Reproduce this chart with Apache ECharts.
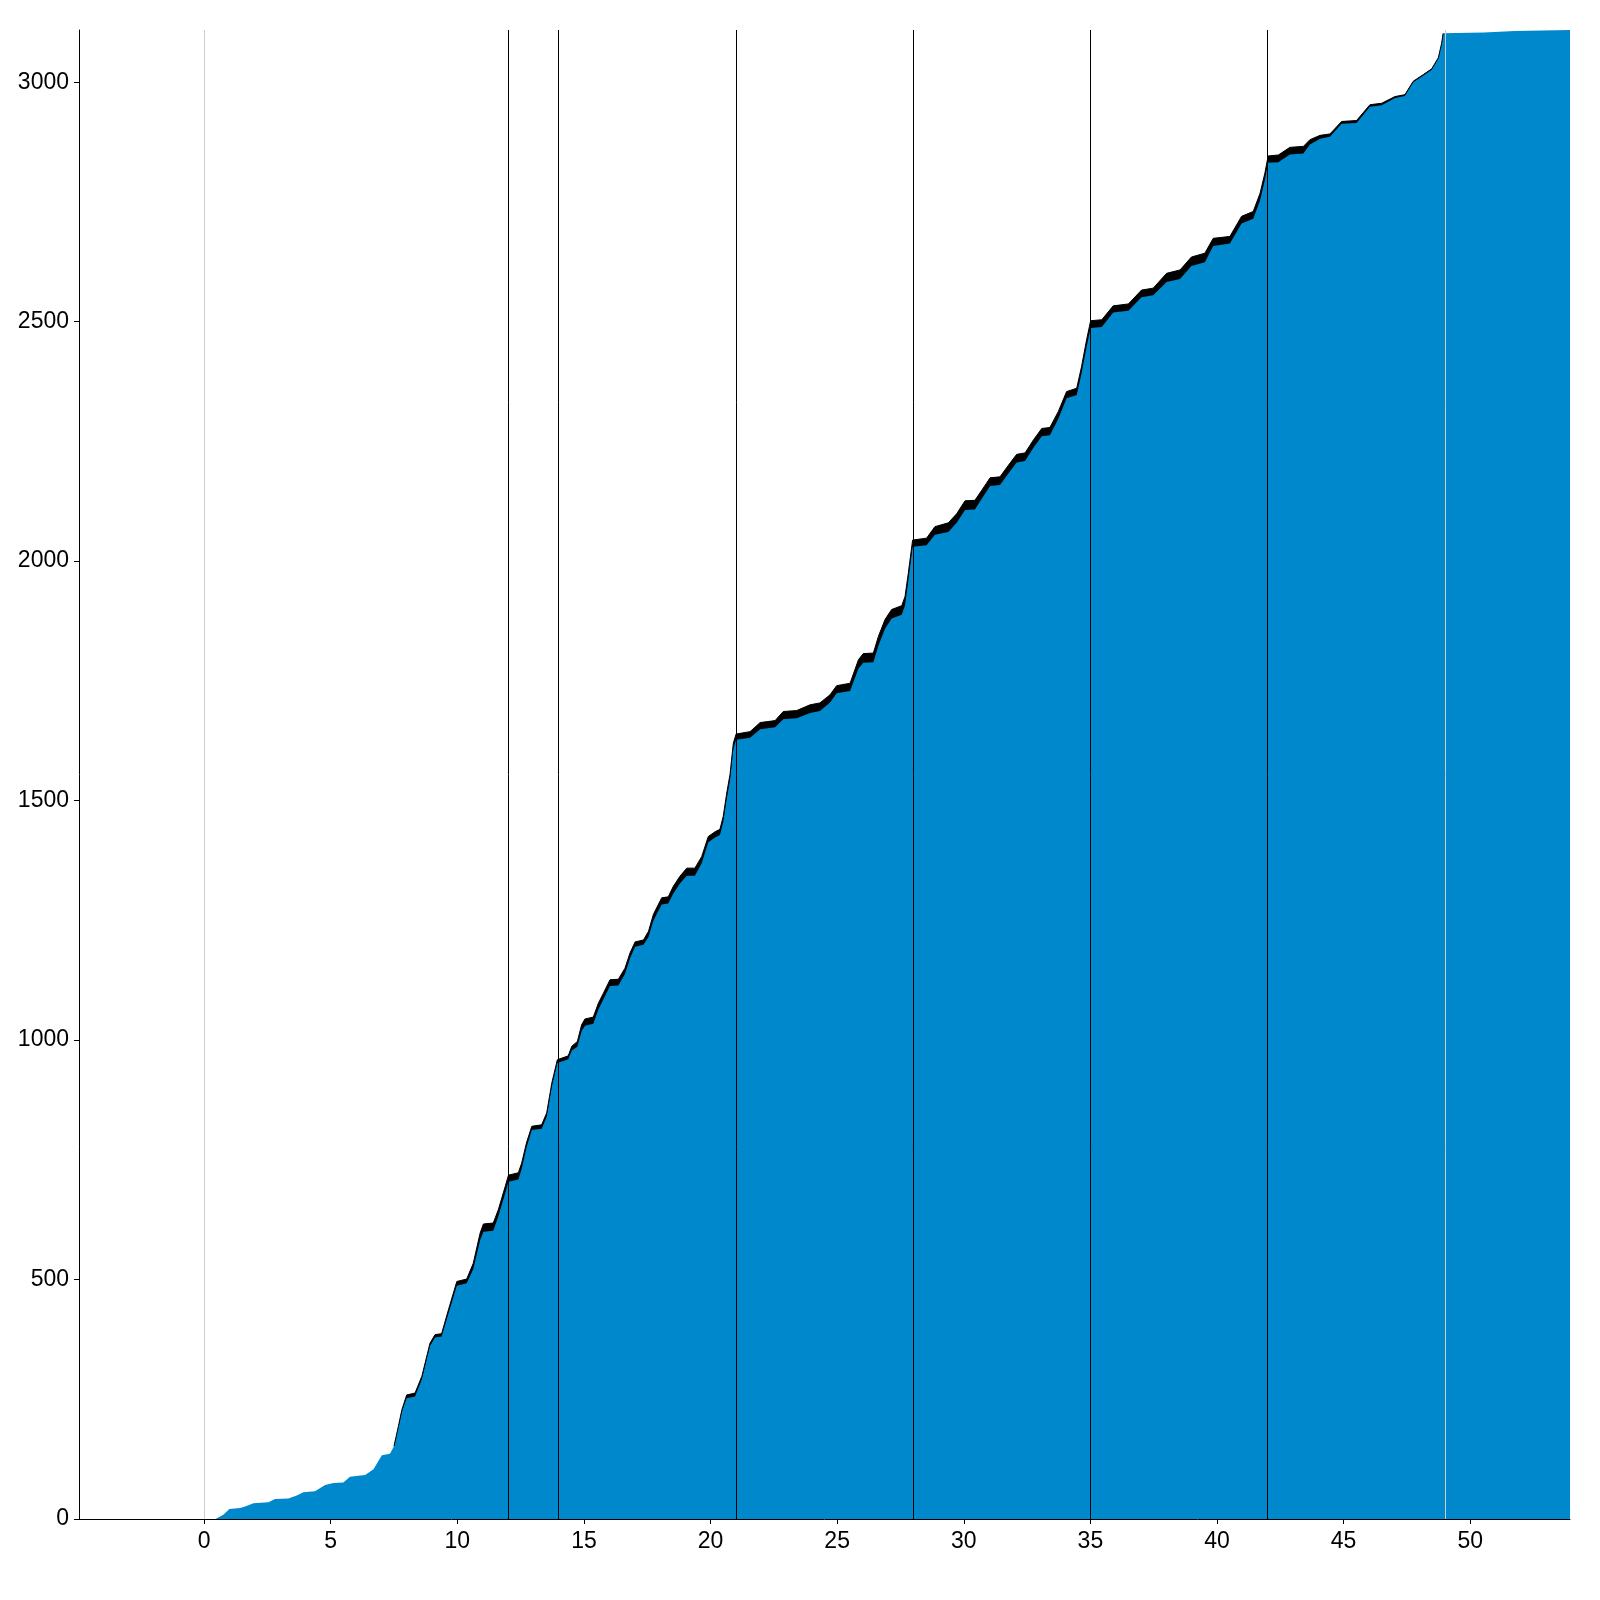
<!DOCTYPE html>
<html>
<head>
<meta charset="utf-8">
<script src="https://cdn.jsdelivr.net/npm/echarts@6/dist/echarts.min.js"></script>
<style>html,body{margin:0;padding:0;background:#fff}#chart{width:1600px;height:1600px}</style>
</head>
<body>
<div id="chart"></div>
<script>
const xValues = [
  0.45, 0.50, 0.76, 1.00, 1.42, 1.62, 1.95, 2.54, 2.80, 3.33,
  3.66, 3.92, 4.38, 4.78, 5.11, 5.50, 5.76, 6.36, 6.69, 7.02,
  7.34, 7.50, 7.67, 7.81, 8.00, 8.33, 8.60, 8.92, 9.12, 9.38,
  9.65, 9.98, 10.37, 10.63, 10.90, 11.03, 11.42, 11.62, 11.89, 12.02,
  12.41, 12.54, 12.73, 12.94, 13.33, 13.53, 13.73, 13.95, 14.38, 14.52,
  14.74, 14.91, 15.04, 15.37, 15.57, 15.77, 16.03, 16.36, 16.62, 16.82,
  17.02, 17.35, 17.55, 17.74, 18.07, 18.33, 18.53, 18.79, 19.06, 19.38,
  19.65, 19.91, 20.18, 20.37, 20.50, 20.64, 20.77, 20.90, 21.01, 21.56,
  21.96, 22.55, 22.87, 23.40, 23.93, 24.32, 24.72, 24.98, 25.51, 25.84,
  26.03, 26.43, 26.63, 26.89, 27.15, 27.55, 27.68, 27.81, 27.98, 28.53,
  28.86, 29.39, 29.72, 30.05, 30.44, 30.71, 31.04, 31.43, 31.76, 32.09,
  32.42, 32.75, 33.08, 33.40, 33.73, 34.06, 34.46, 34.65, 34.85, 35.01,
  35.45, 35.90, 36.50, 37.02, 37.48, 38.01, 38.54, 38.99, 39.52, 39.85,
  40.51, 40.97, 41.43, 41.70, 41.89, 42.02, 42.42, 42.88, 43.41, 43.67,
  44.07, 44.46, 44.92, 45.51, 46.04, 46.50, 47.03, 47.42, 47.75, 48.15,
  48.48, 48.74, 48.87, 48.93, 49.00, 50.55, 50.60, 51.75, 51.80, 53.94
];
// top of the blue area
const blueValues = [
  0, 2, 9, 21, 23, 26, 33, 35, 42, 43,
  49, 56, 58, 71, 75, 76, 88, 92, 104, 133,
  136, 152, 191, 224, 252, 256, 292, 361, 379, 381,
  429, 487, 492, 522, 582, 600, 602, 632, 680, 704,
  709, 731, 775, 812, 815, 840, 902, 952, 960, 978,
  986, 1019, 1030, 1034, 1064, 1085, 1113, 1114, 1138, 1171,
  1195, 1199, 1215, 1249, 1283, 1285, 1306, 1327, 1343, 1343,
  1369, 1413, 1423, 1428, 1455, 1504, 1543, 1608, 1627, 1631,
  1649, 1653, 1670, 1672, 1683, 1687, 1705, 1724, 1729, 1776,
  1788, 1789, 1824, 1859, 1880, 1888, 1908, 1959, 2030, 2033,
  2055, 2061, 2080, 2107, 2108, 2130, 2157, 2159, 2183, 2206,
  2209, 2237, 2261, 2263, 2297, 2340, 2347, 2392, 2447, 2487,
  2489, 2519, 2523, 2551, 2555, 2583, 2589, 2616, 2624, 2658,
  2663, 2705, 2715, 2753, 2796, 2832, 2833, 2849, 2851, 2870,
  2882, 2886, 2913, 2915, 2949, 2952, 2967, 2971, 3000, 3014,
  3026, 3050, 3081, 3102, 3104, 3104, 3107, 3107, 3109, 3109
];
// top of the black band (outer edge), only where the band is visible
const outerValues = [
  null, null, null, null, null, null, null, null, null, null,
  null, null, null, null, null, null, null, null, null, null,
  null, 152, 193, 228, 259, 263, 298, 367, 385, 387,
  437, 496, 501, 534, 597, 616, 618, 646, 694, 718,
  723, 743, 785, 820, 823, 848, 910, 959, 967, 987,
  997, 1032, 1044, 1048, 1077, 1098, 1126, 1127, 1150, 1182,
  1205, 1209, 1227, 1262, 1297, 1299, 1321, 1342, 1359, 1359,
  1383, 1425, 1435, 1440, 1467, 1516, 1555, 1620, 1639, 1644,
  1663, 1667, 1686, 1688, 1700, 1704, 1721, 1740, 1745, 1794,
  1807, 1808, 1843, 1878, 1899, 1907, 1926, 1975, 2044, 2048,
  2072, 2080, 2099, 2126, 2127, 2148, 2174, 2176, 2200, 2223,
  2226, 2253, 2277, 2279, 2312, 2354, 2361, 2406, 2462, 2502,
  2504, 2533, 2537, 2566, 2570, 2601, 2608, 2635, 2643, 2674,
  2678, 2720, 2730, 2768, 2810, 2846, 2848, 2864, 2866, 2880,
  2889, 2892, 2918, 2920, 2953, 2956, 2970, 2974, 3002, 3016,
  3028, 3051, 3081, 3102, null, null, null, null, null, null
];
const xTickValues = [0, 5, 10, 15, 20, 25, 30, 35, 40, 45, 50];
const blackMarkers = [12, 14, 21, 28, 35, 42];
const grayMarkers = [0, 49];

const FONT = '"Liberation Sans", Arial, sans-serif';
const chart = echarts.init(document.getElementById('chart'), null, {renderer: 'canvas'});

const markData = blackMarkers.map(v => ({xAxis: v, lineStyle: {color: '#000000', width: 1, type: 'solid'}}))
  .concat(grayMarkers.map(v => ({xAxis: v, lineStyle: {color: '#cccccc', width: 1, type: 'solid'}})));

chart.setOption({
  animation: false,
  backgroundColor: '#ffffff',
  grid: {left: 79, right: 30, top: 30, bottom: 81, containLabel: false},
  xAxis: {
    type: 'value',
    min: -4.94,
    max: 53.94,
    splitLine: {show: false},
    axisLine: {show: true, onZero: false, lineStyle: {color: '#000', width: 1}},
    axisTick: {show: true, length: 5, customValues: xTickValues, lineStyle: {color: '#000'}},
    axisLabel: {show: true, customValues: xTickValues, margin: 11, color: '#000', fontSize: 23, fontFamily: FONT,
      formatter: v => String(v)}
  },
  yAxis: {
    type: 'value',
    min: 0,
    max: 3109,
    interval: 500,
    splitLine: {show: false},
    axisLine: {show: true, onZero: false, lineStyle: {color: '#000', width: 1}},
    axisTick: {show: true, length: 5, lineStyle: {color: '#000'}},
    axisLabel: {show: true, margin: 10, color: '#000', fontSize: 23, fontFamily: FONT,
      showMaxLabel: false, formatter: v => String(v)}
  },
  series: [
    {
      name: 'outer',
      type: 'line',
      symbol: 'none',
      silent: true,
      connectNulls: false,
      data: xValues.map((x, i) => [x, outerValues[i]]),
      lineStyle: {width: 1, color: '#000'},
      areaStyle: {color: '#000', opacity: 1}
    },
    {
      name: 'blue',
      type: 'line',
      symbol: 'none',
      silent: true,
      data: xValues.map((x, i) => [x, blueValues[i]]),
      lineStyle: {width: 0, opacity: 0},
      areaStyle: {color: '#0088cc', opacity: 1},
      markLine: {
        silent: true,
        symbol: ['none', 'none'],
        label: {show: false},
        z: 10,
        data: markData
      }
    }
  ]
});
</script>
</body>
</html>
